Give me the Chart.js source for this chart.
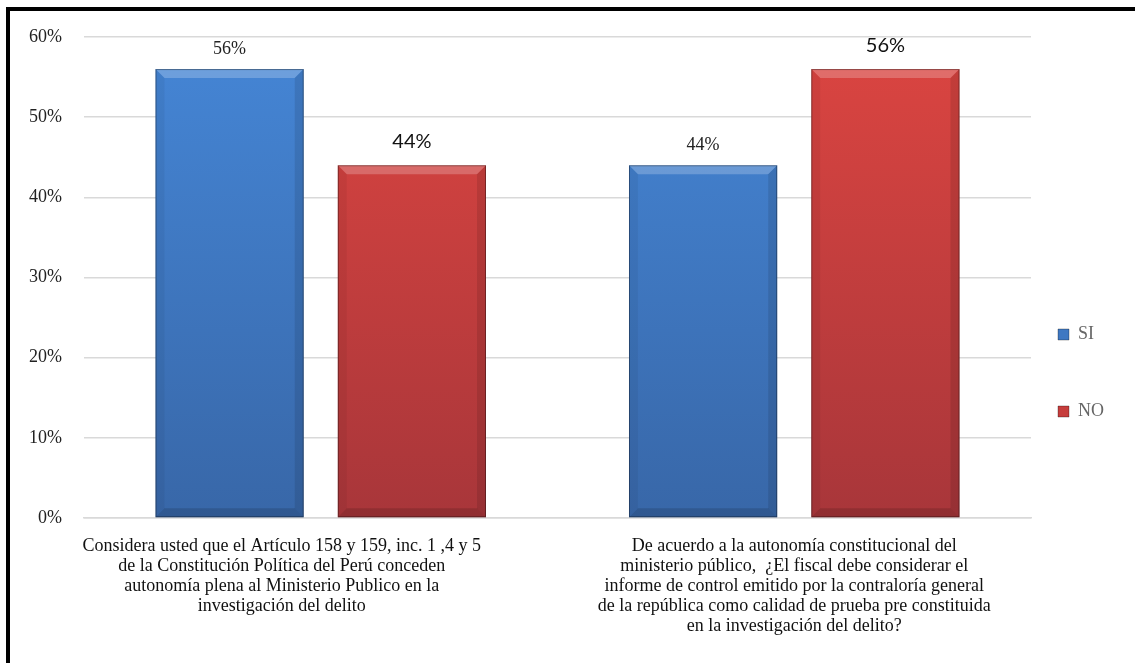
<!DOCTYPE html>
<html>
<head>
<meta charset="utf-8">
<script src="https://cdn.jsdelivr.net/npm/chart.js@4.4.1/dist/chart.umd.min.js"></script>
<style>
  html, body { margin: 0; padding: 0; background: #fff; }
  #wrap { position: relative; width: 1135px; height: 663px; overflow: hidden; }
  #frame { position: absolute; left: 6px; top: 7px; width: 1200px; height: 700px;
           border-left: 4px solid #000; border-top: 4px solid #000; box-sizing: border-box; }
  canvas { position: absolute; left: 0; top: 0; }
</style>
</head>
<body>
<div id="wrap">
  <div id="frame"></div>
  <canvas id="chart" width="1135" height="663"></canvas>
</div>
<script>
// Survey questions (x axis), one line per array entry
const categories = [
  ["Considera usted que el Artículo 158 y 159, inc. 1 ,4 y 5",
   "de la Constitución Política del Perú conceden",
   "autonomía plena al Ministerio Publico en la",
   "investigación del delito"],
  ["De acuerdo a la autonomía constitucional del",
   "ministerio público,  ¿El fiscal debe considerar el",
   "informe de control emitido por la contraloría general",
   "de la república como calidad de prueba pre constituida",
   "en la investigación del delito?"]
];
const seriesNames = ["SI", "NO"];
const siValues = [56, 44];
const noValues = [44, 56];
const yTickValues = [0, 10, 20, 30, 40, 50, 60];

const SERIF = "'Liberation Serif', 'Times New Roman', serif";
const SANS = "Lato, 'Open Sans', 'Liberation Sans', sans-serif";

const palette = {
  SI: { top: "#4586d6", bottom: "#3867a8", solid: "#3f78c2" },
  NO: { top: "#dc4541", bottom: "#a8363a", solid: "#c63d3c" }
};

function barGradient(name) {
  return function (ctx) {
    const chart = ctx.chart;
    const area = chart.chartArea;
    if (!area) return palette[name].solid;
    const g = chart.ctx.createLinearGradient(0, area.top, 0, area.bottom);
    g.addColorStop(0, palette[name].top);
    g.addColorStop(1, palette[name].bottom);
    return g;
  };
}

// The first question's wrapped text sits left of its bar pair
const labelShiftPlugin = {
  id: "labelShift",
  beforeDraw(chart) {
    const items = chart.scales.x.getLabelItems();
    if (items.length && !items[0]._shifted) {
      items[0].options.translation[0] -= 39;
      items[0]._shifted = true;
    }
  }
};

// Bevelled edges and value labels drawn on top of each bar
const bevelPlugin = {
  id: "bevel",
  afterDatasetDraw(chart, args) {
    const c = chart.ctx;
    const meta = args.meta;
    const ds = chart.data.datasets[args.index];
    meta.data.forEach((bar, i) => {
      const p = bar.getProps(["x", "y", "base", "width"], true);
      const l = p.x - p.width / 2, r = p.x + p.width / 2;
      const t = p.y, b = p.base;
      const s = 9;
      c.save();
      // top facet
      c.beginPath();
      c.moveTo(l, t); c.lineTo(r, t); c.lineTo(r - s, t + s); c.lineTo(l + s, t + s); c.closePath();
      c.fillStyle = "rgba(255,255,255,0.22)"; c.fill();
      // left facet
      c.beginPath();
      c.moveTo(l, t); c.lineTo(l + s, t + s); c.lineTo(l + s, b - s); c.lineTo(l, b); c.closePath();
      c.fillStyle = "rgba(0,0,0,0.05)"; c.fill();
      // right facet
      c.beginPath();
      c.moveTo(r, t); c.lineTo(r - s, t + s); c.lineTo(r - s, b - s); c.lineTo(r, b); c.closePath();
      c.fillStyle = "rgba(0,0,0,0.10)"; c.fill();
      // bottom facet
      c.beginPath();
      c.moveTo(l, b); c.lineTo(r, b); c.lineTo(r - s, b - s); c.lineTo(l + s, b - s); c.closePath();
      c.fillStyle = "rgba(0,0,0,0.14)"; c.fill();
      // edge line
      c.strokeStyle = "rgba(0,0,0,0.35)";
      c.lineWidth = 1;
      c.strokeRect(l + 0.5, t + 0.5, p.width - 1, b - t - 1);
      c.restore();

      // value label
      c.save();
      const isSI = ds.label === "SI";
      c.font = isSI ? "18px " + SERIF : "20px " + SANS;
      c.fillStyle = isSI ? "#222" : "#111";
      c.textAlign = "center";
      c.textBaseline = "alphabetic";
      c.fillText(ds.data[i] + "%", p.x, t - (isSI ? 15 : 17));
      c.restore();
    });
  }
};

new Chart(document.getElementById("chart"), {
  type: "bar",
  data: {
    labels: categories,
    datasets: [
      { label: seriesNames[0], data: siValues, backgroundColor: barGradient("SI") },
      { label: seriesNames[1], data: noValues, backgroundColor: barGradient("NO") }
    ]
  },
  options: {
    responsive: false,
    animation: false,
    devicePixelRatio: 1,
    categoryPercentage: 0.77,
    barPercentage: 0.813,
    layout: { padding: { left: 7, top: 37, right: 21, bottom: 9 } },
    scales: {
      y: {
        min: 0, max: 60,
        afterBuildTicks(axis) { axis.ticks = yTickValues.map(v => ({ value: v })); },
        ticks: { callback: v => v + "%", color: "#222", font: { family: SERIF, size: 18 }, padding: 22 },
        grid: { color: "#d9d9d9", lineWidth: 1.5, drawTicks: false },
        border: { display: false }
      },
      x: {
        ticks: { color: "#111", font: { family: SERIF, size: 18, lineHeight: "20px" }, padding: 18, maxRotation: 0, autoSkip: false },
        grid: { display: false, drawTicks: false },
        border: { color: "#d9d9d9", width: 1.5 }
      }
    },
    plugins: {
      tooltip: { enabled: false },
      legend: {
        position: "right",
        title: { display: true, text: "", padding: { top: 0, bottom: 77 }, font: { size: 10, lineHeight: "10px" } },
        labels: {
          boxWidth: 11, boxHeight: 11, padding: 27,
          color: "#111",
          font: { family: SERIF, size: 18, lineHeight: "50px" },
          generateLabels(chart) {
            return chart.data.datasets.map((d, i) => ({
              text: [d.label],
              fillStyle: palette[d.label].solid,
              strokeStyle: "rgba(0,0,0,0.3)",
              lineWidth: 1,
              datasetIndex: i
            }));
          }
        }
      }
    }
  },
  plugins: [labelShiftPlugin, bevelPlugin]
});
</script>
</body>
</html>
